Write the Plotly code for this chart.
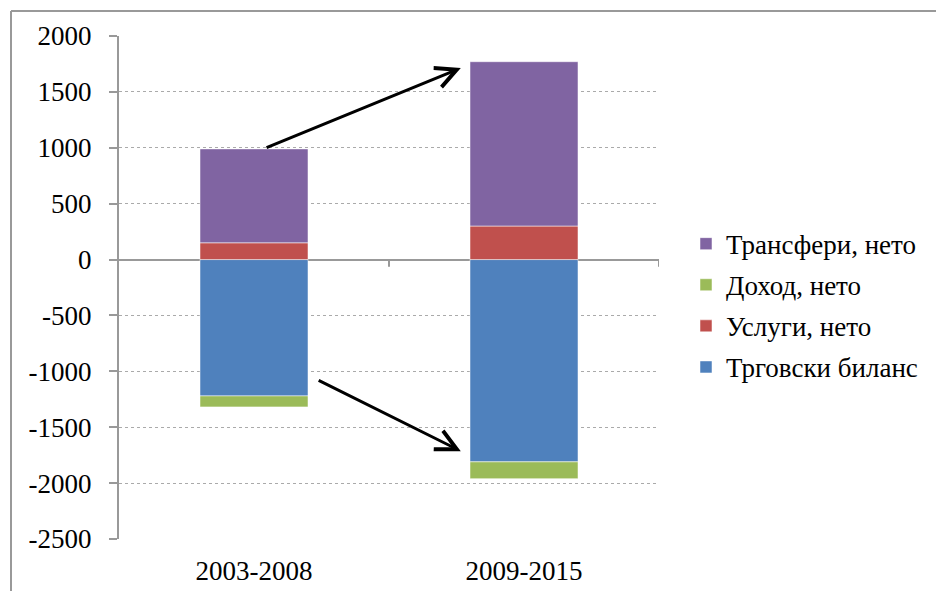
import plotly.graph_objects as go

categories = ["2003-2008", "2009-2015"]
trade = [-1220, -1810]
services = [150, 300]
income = [-98, -150]
transfers = [840, 1470]
y_ticks = [2000, 1500, 1000, 500, 0, -500, -1000, -1500, -2000, -2500]
y_tick_labels = ["2000", "1500", "1000", "500", "0", "-500", "-1000", "-1500", "-2000", "-2500"]

series = [
    ("Трговски биланс", trade, "#4F81BD", 4),
    ("Услуги, нето", services, "#C0504D", 3),
    ("Доход, нето", income, "#9BBB59", 2),
    ("Трансфери, нето", transfers, "#8064A2", 1),
]

FONT = "'Liberation Serif', 'Times New Roman', Times, serif"
fig = go.Figure()
for name, vals, col, rank in series:
    fig.add_trace(go.Bar(
        x=categories, y=vals, name=name, legendgroup=name, legendrank=rank,
        marker=dict(color=col, line=dict(color="rgba(255,255,255,0.5)", width=1)),
    ))

fig.update_layout(
    barmode="relative",
    bargap=0.6,
    width=936, height=583,
    margin=dict(l=111, r=285, t=28, b=52, autoexpand=False),
    paper_bgcolor="white", plot_bgcolor="white",
    font=dict(family=FONT, size=27, color="black"),
    showlegend=True,
    legend=dict(
        traceorder="grouped", tracegroupgap=3,
        x=1.05, xanchor="left", y=0.635, yanchor="top",
        font=dict(family=FONT, size=27), itemwidth=30,
        bgcolor="rgba(0,0,0,0)",
    ),
)
fig.update_yaxes(
    range=[-2500, 2000], tickvals=y_ticks, ticktext=y_tick_labels,
    showgrid=True, gridcolor="#aaaaaa", gridwidth=1, griddash="dot",
    zeroline=True, zerolinecolor="#999999", zerolinewidth=2,
    showline=True, linecolor="#999999", linewidth=2,
    ticks="outside", ticklen=8, tickcolor="#999999", tickwidth=2,
    ticklabelstandoff=12, automargin=False,
    tickfont=dict(family=FONT, size=27), fixedrange=True,
)
fig.update_xaxes(
    range=[-0.5, 1.5], showline=False, showgrid=False, zeroline=False,
    ticks="outside", ticklen=8, tickcolor="rgba(0,0,0,0)", automargin=False,
    tickfont=dict(family=FONT, size=27), fixedrange=True,
)

# ticks on the zero line at category boundaries
for xb in [0.5, 1.5]:
    fig.add_shape(type="line", xref="x", yref="y", x0=xb, x1=xb, y0=0, y1=-65,
                  line=dict(color="#999999", width=2))

# outer chart border (top and left only visible)
fig.add_shape(type="line", xref="paper", yref="paper", x0=-0.2, x1=1.6, y0=1.0497, y1=1.0497,
              line=dict(color="#999999", width=2))
fig.add_shape(type="line", xref="paper", yref="paper", x0=-0.2, x1=-0.2, y0=1.0497, y1=-0.2,
              line=dict(color="#999999", width=2))

# arrows
arrows = [((0.041, 995), (0.766, 1714)), ((0.234, -1074), (0.766, -1714))]
for (tx, ty), (hx, hy) in arrows:
    fig.add_annotation(x=hx, y=hy, ax=tx, ay=ty, xref="x", yref="y", axref="x", ayref="y",
                       showarrow=True, arrowhead=5, arrowsize=1.35, arrowwidth=3,
                       arrowcolor="black", text="")

fig.write_html("out.html")
